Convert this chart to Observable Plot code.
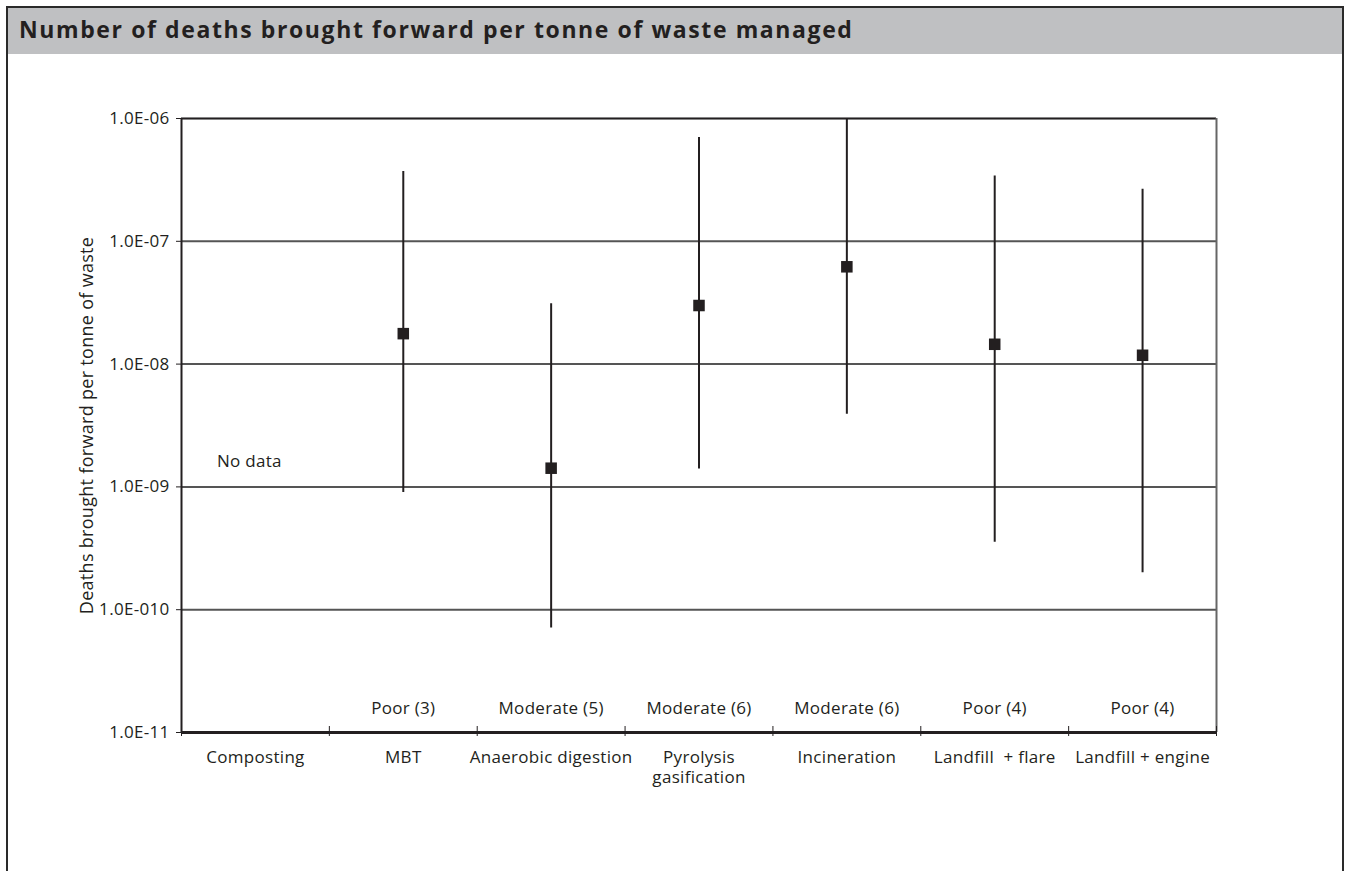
<!DOCTYPE html>
<html>
<head>
<meta charset="utf-8">
<script src="https://cdn.jsdelivr.net/npm/d3@7"></script>
<script src="https://cdn.jsdelivr.net/npm/@observablehq/plot@0.6"></script>
<style>
  html, body { margin: 0; padding: 0; background: #fff; }
  body { width: 1346px; height: 871px; overflow: hidden; position: relative; font-family: "Open Sans", sans-serif; }
  #frame { position: absolute; left: 6px; top: 6px; width: 1334px; height: 900px;
           border: 2px solid #2a2a2a; border-bottom: none; }
  #title { height: 46px; background: #bfc0c2; color: #231f20; font-weight: 700;
           font-size: 23px; letter-spacing: 1.6px; line-height: 42px; padding-left: 11px;
           white-space: nowrap; }
  #chart svg { display: block; }
</style>
</head>
<body>
<div id="frame">
  <div id="title">Number of deaths brought forward per tonne of waste managed</div>
  <div id="chart"></div>
</div>
<script>
// Waste management options along the x axis
const categories = ["Composting", "MBT", "Anaerobic digestion", "Pyrolysis\ngasification",
                    "Incineration", "Landfill\u00a0 + flare", "Landfill + engine"];
// Data quality rating shown above each option
const quality = ["", "Poor (3)", "Moderate (5)", "Moderate (6)", "Moderate (6)", "Poor (4)", "Poor (4)"];
// Central estimate and range of deaths brought forward per tonne
const central = [null, 1.77e-8, 1.42e-9, 3.0e-8, 6.2e-8, 1.45e-8, 1.18e-8];
const low     = [null, 9.0e-10, 7.1e-11, 1.4e-9, 3.9e-9, 3.55e-10, 2.0e-10];
const high    = [null, 3.7e-7,  3.1e-8,  7.0e-7, 1.0e-6, 3.4e-7,  2.65e-7];
// Log axis ticks and their printed labels
const yTicks = [1e-11, 1e-10, 1e-9, 1e-8, 1e-7, 1e-6];
const yTickLabels = ["1.0E-11", "1.0E-010", "1.0E-09", "1.0E-08", "1.0E-07", "1.0E-06"];
// Note for the option without an estimate
const noDataNote = {category: "Composting", text: "No data", value: 1.6e-9};

const rows = categories.map((c, i) => ({
  category: c, pos: i + 0.5, quality: quality[i],
  central: central[i], low: low[i], high: high[i]
}));
const measured = rows.filter(d => d.central != null);
const boundaries = d3.range(categories.length + 1);
const notes = [{...noDataNote, pos: categories.indexOf(noDataNote.category) + 0.5}];

const ink = "#231f20";

const chart = Plot.plot({
  width: 1334,
  height: 817,
  marginLeft: 173,
  marginRight: 126,
  marginTop: 64,
  marginBottom: 139,
  style: {fontFamily: "'Open Sans', sans-serif", fontSize: "17px", letterSpacing: "0.3px",
          color: ink, background: "transparent", overflow: "visible"},
  x: {type: "linear", domain: [0, categories.length]},
  y: {type: "log", domain: [yTicks[0], yTicks[yTicks.length - 1]]},
  marks: [
    // decade gridlines
    Plot.ruleY(yTicks, {stroke: "#555", strokeWidth: 2}),
    Plot.ruleY([yTicks[yTicks.length - 1]], {stroke: ink, strokeWidth: 1.5}),
    Plot.ruleX([categories.length], {stroke: "#666", strokeWidth: 2}),
    Plot.ruleX([0], {stroke: ink, strokeWidth: 2}),
    Plot.ruleY([yTicks[0]], {stroke: ink, strokeWidth: 3}),
    Plot.axisY({
      ticks: yTicks,
      tickFormat: d => yTickLabels[yTicks.findIndex(t => Math.abs(Math.log10(t / d)) < 1e-6)],
      tickSize: 5, tickPadding: 7, fontSize: 17, stroke: ink, label: null
    }),
    Plot.axisY({
      ticks: [], fontSize: 18,
      label: "Deaths brought forward per tonne of waste",
      labelAnchor: "center", labelArrow: "none", labelOffset: 101
    }),
    // category separators, crossing the axis line
    Plot.axisX({ticks: boundaries, tickFormat: () => "", tickSize: 4, stroke: ink, label: null}),
    Plot.axisX({ticks: boundaries, tickFormat: () => "", tickSize: -6, stroke: ink, label: null}),
    // category names
    Plot.axisX({
      ticks: rows.map(d => d.pos),
      tickFormat: d => categories[Math.floor(d)],
      tickSize: 0, tickPadding: 17, fontSize: 17, lineHeight: 1.15, label: null
    }),
    // data quality ratings
    Plot.text(rows, {x: "pos", text: "quality", frameAnchor: "bottom", dy: -19, fontSize: 17, fill: ink}),
    // ranges
    Plot.ruleX(measured, {x: "pos", y1: "low", y2: "high", stroke: ink, strokeWidth: 2}),
    // central estimates
    Plot.dot(measured, {x: "pos", y: "central", symbol: "square", r: 6.5, fill: ink, stroke: "none"}),
    Plot.text(notes, {x: "pos", y: "value", text: "text", fontSize: 17, fill: ink, dx: -6})
  ]
});

document.getElementById("chart").appendChild(chart);
</script>
</body>
</html>
